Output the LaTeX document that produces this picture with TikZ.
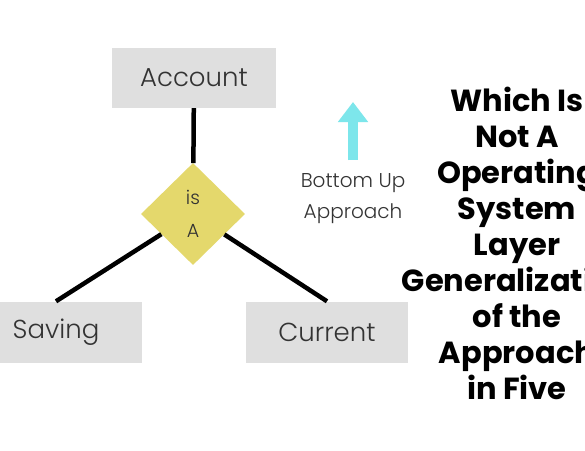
\documentclass[tikz,border=0pt]{standalone}
\usepackage{fontspec}
\usepackage{tikz}
\usetikzlibrary{shapes,arrows.meta,positioning,calc}

\newfontfamily\thinfont{Poppins Light}
\newfontfamily\titlefont{Poppins}

\definecolor{boxgray}{HTML}{DFDFDF}
\definecolor{isayellow}{HTML}{E4D86C}
\definecolor{upcyan}{HTML}{7DE6EB}
\definecolor{labelgray}{HTML}{333333}

\begin{document}
\begin{tikzpicture}[x=1pt, y=-1pt, auto]
    \clip (0,0) rectangle (585,450);
    \fill[white] (0,0) rectangle (585,450);

    % Nodes
    \node (account) at (194,78) [rectangle, fill=boxgray, minimum width=164pt, minimum height=60pt, text=labelgray, font=\thinfont\fontsize{26}{30}\selectfont] {Account};
    \node (isa) at (193,214) [diamond, fill=isayellow, inner sep=0pt, minimum width=104pt, minimum height=102pt, align=center, text=labelgray, font=\thinfont\fontsize{19}{33}\selectfont] {is\\A};

    \node (saving) at (56,332) [rectangle, fill=boxgray, minimum width=172pt, minimum height=61pt, text=labelgray, font=\thinfont\fontsize{26}{30}\selectfont] {Saving};
    \node (current) at (327,332) [rectangle, fill=boxgray, minimum width=162pt, minimum height=61pt, text=labelgray, font=\thinfont\fontsize{26}{30}\selectfont] {Current};

    % Bottom up note
    \coordinate (upfoot) at (353,160);
    \coordinate (uptip) at (353,102);
    \node (bottomup) at (353,199) [align=center, text=labelgray, font=\thinfont\fontsize{20}{31}\selectfont] {Bottom Up\\Approach};

    % Title
    \node (title) at (517,243) [align=center, font=\titlefont\bfseries\fontsize{30.5}{36}\selectfont] {Which Is\\Not A\\Operating\\System\\Layer\\Generalization\\of the\\Approach\\in Five};

    % Arrows
    \draw [line width=4.5pt] (account) -- (isa);
    \draw [line width=4.5pt] (isa) -- (saving.north);
    \draw [line width=4.5pt] (isa) -- (current.north);
    \draw [upcyan, line width=10pt, -{Triangle[length=20pt, width=29pt]}] (upfoot) -- (uptip);
\end{tikzpicture}
\end{document}
